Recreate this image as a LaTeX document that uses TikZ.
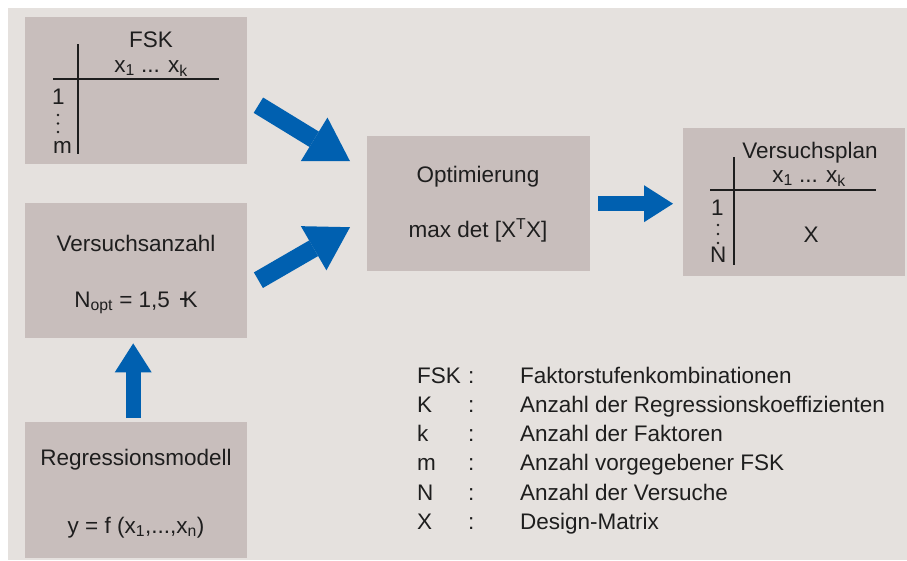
\documentclass[tikz,border=0pt]{standalone}
\usepackage{fontspec}
\setmainfont{Liberation Sans}
\usetikzlibrary{arrows.meta}

\definecolor{backdrop}{HTML}{E5E1DE}
\definecolor{boxfill}{HTML}{C8BEBC}
\definecolor{flow}{HTML}{0060B0}
\definecolor{ink}{HTML}{1E1E1E}

\newcommand{\strokeK}{\rlap{\kern-0.1em\rule[0.33em]{0.3em}{0.07em}}K}

\tikzset{
  panel/.style={fill=boxfill, draw=none, anchor=north west, inner sep=0pt},
  txt/.style={text=ink, inner sep=0pt, anchor=base, font=\fontsize{22.5}{27}\selectfont},
  gridline/.style={ink, line width=2.6pt},
  flowarrow/.style={flow, line width=15pt, -{Triangle[width=37pt,length=29pt,line width=0pt]}},
  bigflow/.style={flow, line width=18pt, -{Triangle[width=51pt,length=42pt,line width=0pt]}},
}

\begin{document}
\begin{tikzpicture}[x=1pt, y=-1pt]

% Canvas
\useasboundingbox (0,0) rectangle (907,560);
\fill[white] (0,0) rectangle (907,560);
\fill[backdrop] (8,8) rectangle (907,560);

% Boxes
\node[panel, minimum width=222pt, minimum height=147pt] (fsk) at (25,17) {};
\node[panel, minimum width=222pt, minimum height=135pt] (anzahl) at (25,203) {};
\node[panel, minimum width=222pt, minimum height=136pt] (regmodel) at (25,422) {};
\node[panel, minimum width=223pt, minimum height=135pt] (opt) at (367,136) {};
\node[panel, minimum width=222pt, minimum height=148pt] (plan) at (683,128) {};

% FSK table
\node[txt] (fsktitle) at (151,47) {FSK};
\node[txt] (fskcols) at (151,72) {x\textsubscript{1} ... x\textsubscript{k}};
\draw[gridline] (53,79) -- (219,79);
\draw[gridline] (78,44) -- (78,154);
\node[txt, anchor=base west] (fskfirst) at (52,104) {1};
\node[txt, anchor=base west] (fsklast) at (53,153) {m};
\foreach \y in {115,123.5,132} {
    \fill[ink] (58,\y) circle (1.3);
}

% Versuchsanzahl
\node[txt] (anzahltitle) at (136,251) {Versuchsanzahl};
\node[txt] (anzahlform) at (136,307) {N\textsubscript{opt} = 1,5~~\strokeK};

% Regressionsmodell
\node[txt] (regtitle) at (136,465) {Regressionsmodell};
\node[txt] (regform) at (136,533) {y = f (x\textsubscript{1},...,x\textsubscript{n})};

% Optimierung
\node[txt] (opttitle) at (478,182) {Optimierung};
\node[txt] (optform) at (478,237) {max det [X\textsuperscript{T}X]};

% Versuchsplan table
\node[txt] (plantitle) at (810,158) {Versuchsplan};
\node[txt] (plancols) at (809,182) {x\textsubscript{1} ... x\textsubscript{k}};
\draw[gridline] (710,190) -- (876,190);
\draw[gridline] (734,157) -- (734,265);
\node[txt, anchor=base west] (planfirst) at (711,215) {1};
\node[txt, anchor=base west] (planlast) at (710,262) {N};
\node[txt] (planmatrix) at (811,242) {X};
\foreach \y in {225,234,243} {
    \fill[ink] (718,\y) circle (1.3);
}

% Arrows
\draw[bigflow] ([xshift=11pt,yshift=-14.5pt]fsk.east) -- ([xshift=-17pt,yshift=42.5pt]opt.west);
\draw[bigflow] ([xshift=11pt,yshift=-9.5pt]anzahl.east) -- ([xshift=-17pt,yshift=-23.5pt]opt.west);
\draw[flowarrow, shorten <=8pt, shorten >=10pt] (opt.east) -- (opt.east -| plan.west);
\draw[flowarrow, shorten <=4pt, shorten >=5pt] ([xshift=-3pt]regmodel.north) -- ([xshift=-3pt]anzahl.south);

% Legend
\foreach \sym/\desc [count=\i] in {FSK/Faktorstufenkombinationen,
    K/Anzahl der Regressionskoeffizienten, k/Anzahl der Faktoren,
    m/Anzahl vorgegebener FSK, N/Anzahl der Versuche, X/Design-Matrix} {
    \node[txt, anchor=base west] (sym\i) at (417,{353.7+29.3*\i}) {\sym};
    \node[txt, anchor=base west] (colon\i) at (468,{353.7+29.3*\i}) {:};
    \node[txt, anchor=base west] (desc\i) at (520,{353.7+29.3*\i}) {\desc};
}

\end{tikzpicture}
\end{document}
